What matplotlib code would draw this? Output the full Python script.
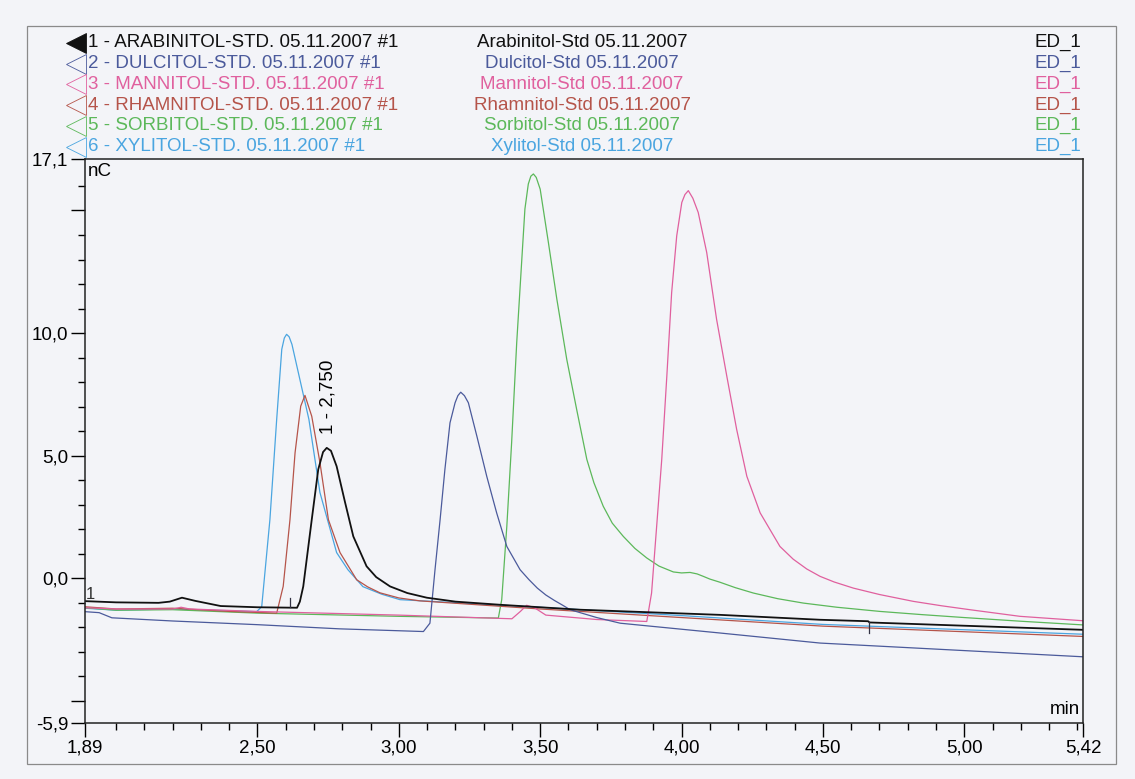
import numpy as np
import matplotlib
matplotlib.use("Agg")
from matplotlib import pyplot as plt
from matplotlib.patches import Rectangle
from matplotlib.lines import Line2D

plt.rcParams['font.family'] = ['Liberation Sans', 'DejaVu Sans']

# chromatogram traces, time in min, signal in nC
arab_t = [1.89, 2.0, 2.15, 2.19, 2.233, 2.28, 2.37, 2.5, 2.64, 2.65, 2.662, 2.692, 2.715,
          2.732, 2.745, 2.76, 2.78, 2.81, 2.839, 2.886, 2.92, 2.969, 3.03, 3.099, 3.2, 3.36,
          3.64, 4.136, 4.49, 4.66, 4.665, 5.42]
arab_y = [-0.93, -0.98, -1.0, -0.95, -0.79, -0.92, -1.13, -1.18, -1.2, -0.95, -0.33, 2.39, 4.44,
          5.15, 5.32, 5.2, 4.57, 3.09, 1.71, 0.49, 0.05, -0.33, -0.6, -0.79, -0.95, -1.08,
          -1.28, -1.49, -1.69, -1.75, -1.8, -2.1]

dulc_t = [1.89, 1.94, 1.985, 2.2, 2.5, 2.79, 3.087, 3.11, 3.128, 3.146, 3.163, 3.181, 3.199,
          3.209, 3.219, 3.232, 3.246, 3.276, 3.311, 3.346, 3.382, 3.429, 3.46, 3.49, 3.52,
          3.55, 3.58, 3.606, 3.7, 3.783, 4.136, 4.49, 5.42]
dulc_y = [-1.36, -1.4, -1.61, -1.74, -1.89, -2.06, -2.17, -1.83, 0.35, 2.39, 4.44, 6.34, 7.16,
          7.45, 7.59, 7.45, 7.16, 5.8, 4.16, 2.67, 1.3, 0.35, -0.05, -0.4, -0.68,
          -0.9, -1.1, -1.28, -1.6, -1.83, -2.23, -2.64, -3.2]

mann_t = [1.89, 2.0, 2.2, 2.23, 2.26, 2.5, 3.0, 3.4, 3.43, 3.452, 3.48, 3.52, 3.7, 3.877,
          3.894, 3.912, 3.93, 3.948, 3.965, 3.983, 4.001, 4.012, 4.024, 4.04, 4.059, 4.089,
          4.124, 4.16, 4.195, 4.231, 4.278, 4.348, 4.395, 4.443, 4.49, 4.54, 4.608, 4.7,
          4.82, 4.92, 5.02, 5.197, 5.42]
mann_y = [-1.2, -1.25, -1.25, -1.18, -1.25, -1.35, -1.5, -1.65, -1.35, -1.1, -1.2, -1.5, -1.68, -1.76,
          -0.6, 2.12, 4.85, 8.25, 11.65, 13.97, 15.33, 15.65, 15.81, 15.5, 14.92, 13.29,
          10.56, 8.25, 6.07, 4.16, 2.67, 1.3, 0.78, 0.38, 0.08, -0.15, -0.4, -0.66,
          -0.94, -1.12, -1.28, -1.55, -1.73]

rham_t = [1.89, 2.0, 2.2, 2.4, 2.568, 2.591, 2.615, 2.633, 2.653, 2.668, 2.692, 2.721, 2.751,
          2.792, 2.851, 2.89, 2.933, 3.0, 3.075, 3.5, 4.0, 4.5, 5.42]
rham_y = [-1.16, -1.25, -1.22, -1.35, -1.42, -0.33, 2.39, 5.12, 7.02, 7.46, 6.61, 4.72, 2.39,
          1.05, -0.06, -0.35, -0.59, -0.8, -0.92, -1.25, -1.6, -1.95, -2.37]

sorb_t = [1.89, 2.0, 2.2, 2.5, 3.0, 3.352, 3.364, 3.382, 3.399, 3.417, 3.435, 3.446, 3.458,
          3.467, 3.476, 3.486, 3.5, 3.529, 3.559, 3.594, 3.629, 3.665, 3.69, 3.723, 3.755,
          3.794, 3.835, 3.877, 3.92, 3.971, 4.0, 4.03, 4.055, 4.077, 4.1, 4.136, 4.19,
          4.254, 4.34, 4.431, 4.55, 4.702, 4.85, 5.0, 5.2, 5.42]
sorb_y = [-1.2, -1.3, -1.28, -1.42, -1.55, -1.62, -0.87, 2.12, 5.53, 9.61, 13.0, 15.06, 16.08,
          16.4, 16.49, 16.35, 15.87, 13.7, 11.38, 8.93, 6.89, 4.85, 3.9, 2.94, 2.25,
          1.71, 1.22, 0.83, 0.5, 0.26, 0.22, 0.24, 0.18, 0.08, -0.03, -0.16, -0.38,
          -0.6, -0.83, -1.01, -1.18, -1.35, -1.48, -1.6, -1.75, -1.9]

xyl_t = [1.89, 2.0, 2.2, 2.4, 2.497, 2.515, 2.544, 2.568, 2.586, 2.595, 2.603, 2.612, 2.622,
         2.682, 2.721, 2.78, 2.82, 2.873, 2.94, 3.004, 3.5, 4.0, 4.5, 5.42]
xyl_y = [-1.22, -1.3, -1.25, -1.32, -1.36, -1.16, 2.39, 6.48, 9.34, 9.8, 9.95, 9.85, 9.54,
         6.48, 3.5, 1.05, 0.35, -0.34, -0.65, -0.87, -1.18, -1.52, -1.88, -2.28]

# integration delimiters of peak 1
delim_t = [2.615, 4.663]
delim_lo = [-1.16, -2.22]
delim_hi = [-0.79, -1.78]

names = ["ARABINITOL", "DULCITOL", "MANNITOL", "RHAMNITOL", "SORBITOL", "XYLITOL"]
short = ["Arabinitol", "Dulcitol", "Mannitol", "Rhamnitol", "Sorbitol", "Xylitol"]
colors = ["#111111", "#4b5a9b", "#e0609e", "#b5544a", "#5cb85a", "#4aa5e0"]

x_ticks = [1.89, 2.5, 3.0, 3.5, 4.0, 4.5, 5.0, 5.42]
x_labels = ["1,89", "2,50", "3,00", "3,50", "4,00", "4,50", "5,00", "5,42"]
y_ticks = [-5.9, -5.0, 0.0, 5.0, 10.0, 15.0, 17.1]
y_labels = ["-5,9", "", "0,0", "5,0", "10,0", "", "17,1"]

FS = 13.5
bg = "#f3f4f8"
fig = plt.figure(figsize=(11.35, 7.79), dpi=100, facecolor=bg)
ax = fig.add_axes([85 / 1135, 1 - 723 / 779, 998 / 1135, 564 / 779], facecolor=bg)

traces = [(arab_t, arab_y), (dulc_t, dulc_y), (mann_t, mann_y),
          (rham_t, rham_y), (sorb_t, sorb_y), (xyl_t, xyl_y)]
# draw later traces first so black sits on top
for i in [5, 4, 3, 2, 1, 0]:
    t, y = traces[i]
    ax.plot(t, y, color=colors[i], lw=1.3 if i == 0 else 0.9, solid_joinstyle="round")

for t, lo, hi in zip(delim_t, delim_lo, delim_hi):
    ax.plot([t, t], [lo, hi], color="#333344", lw=0.9)

ax.text(2.75, 5.9, "1 - 2,750", rotation=90, ha="center", va="bottom", fontsize=FS)
ax.text(1.893, -0.95, "1", fontsize=12, color="#333333", ha="left", va="bottom")

ax.set_xlim(1.89, 5.42)
ax.set_ylim(-5.9, 17.1)
ax.set_xticks(x_ticks)
ax.set_xticklabels(x_labels, fontsize=FS)
ax.set_xticks(np.arange(2.0, 5.41, 0.1), minor=True)
ax.set_yticks(y_ticks)
ax.set_yticklabels(y_labels, fontsize=FS)
ax.set_yticks(np.arange(-5, 17, 1.0), minor=True)
ax.tick_params(which="major", length=10, width=1, pad=2)
ax.tick_params(which="minor", length=5, width=1)
for s in ax.spines.values():
    s.set_linewidth(1.1)
    s.set_color("#222222")

ax.text(0.003, 0.993, "nC", transform=ax.transAxes, ha="left", va="top", fontsize=FS)
ax.text(0.997, 0.008, "min", transform=ax.transAxes, ha="right", va="bottom", fontsize=FS)

# header with the six sample names
rows = [42.7, 63.5, 84.3, 105.1, 125.9, 146.7]
for i in range(6):
    fy = 1 - rows[i] / 779
    mk = Line2D([76 / 1135], [fy], marker="<", markersize=15, transform=fig.transFigure,
                markerfacecolor=colors[i] if i == 0 else "none",
                markeredgecolor=colors[i], markeredgewidth=0.6, linestyle="none")
    fig.add_artist(mk)
    fig.text(88 / 1135, fy, "%d - %s-STD. 05.11.2007 #1" % (i + 1, names[i]),
             color=colors[i], fontsize=FS, ha="left", va="center")
    fig.text(582 / 1135, fy, "%s-Std 05.11.2007" % short[i],
             color=colors[i], fontsize=FS, ha="center", va="center")
    fig.text(1081 / 1135, fy, "ED_1", color=colors[i], fontsize=FS, ha="right", va="center")

fig.add_artist(Rectangle((27 / 1135, 1 - 764 / 779), 1089 / 1135, 738 / 779,
                         transform=fig.transFigure, fill=False, edgecolor="#8a8a8a", lw=0.9))

fig.savefig("out.png", dpi=100, facecolor=bg)
